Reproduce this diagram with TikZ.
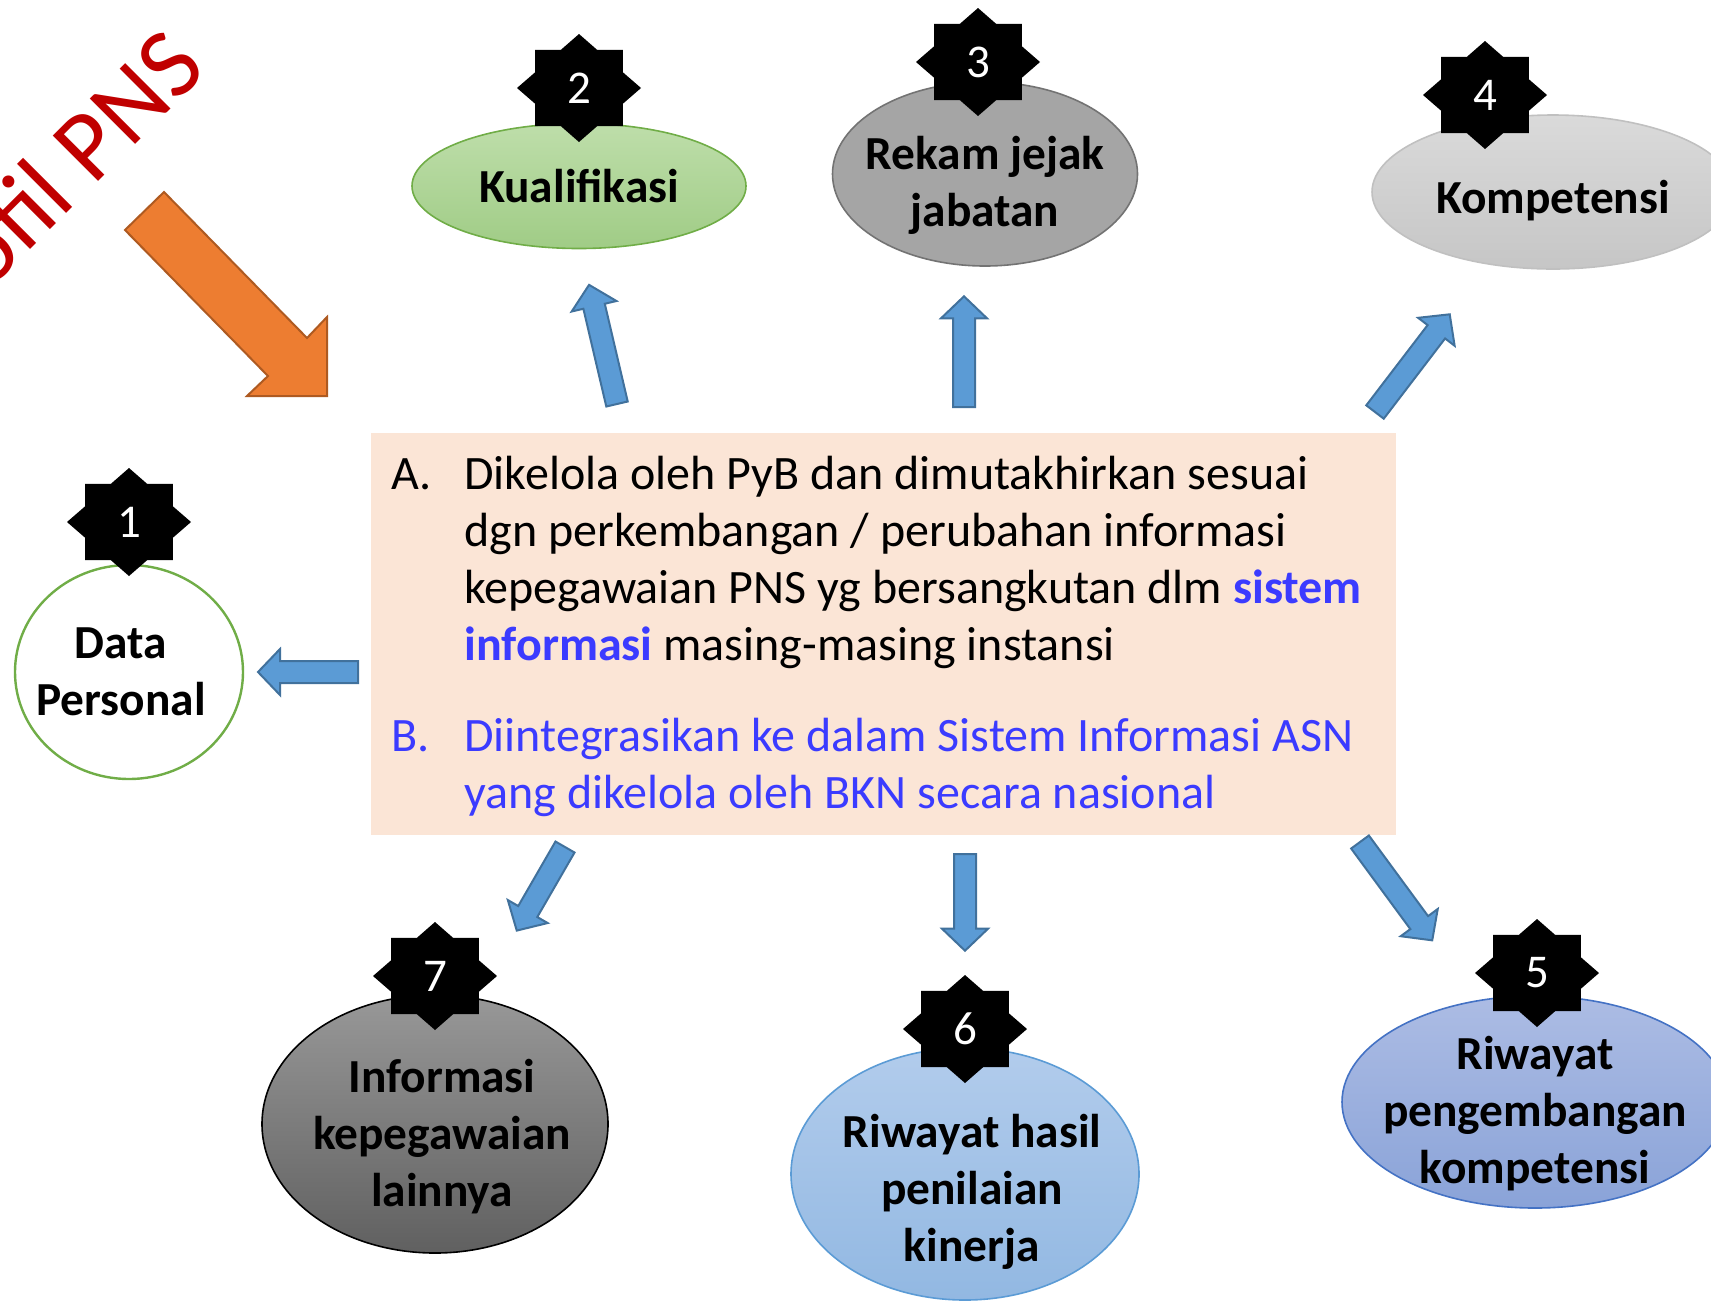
\documentclass[tikz,border=0pt]{standalone}
\usepackage{fontspec}
\setmainfont{Carlito}
\usetikzlibrary{shapes.geometric}

\definecolor{boxfill}{HTML}{FBE5D6}
\definecolor{infoblue}{RGB}{59,59,255}
\definecolor{arrowblue}{HTML}{5B9BD5}
\definecolor{arrowedge}{HTML}{41719C}
\definecolor{pnsred}{HTML}{C00000}
\definecolor{orangefill}{HTML}{ED7D31}
\definecolor{orangeedge}{HTML}{AE5A21}
\definecolor{greenedge}{HTML}{70AD47}
\definecolor{greentop}{RGB}{190,222,170}
\definecolor{greenbot}{RGB}{160,204,134}
\definecolor{grayedge}{RGB}{115,115,115}
\definecolor{grayfill}{RGB}{165,165,165}
\definecolor{lightedge}{RGB}{192,192,192}
\definecolor{lighttop}{RGB}{218,218,218}
\definecolor{lightbot}{RGB}{198,198,198}
\definecolor{darktop}{RGB}{152,152,152}
\definecolor{darkbot}{RGB}{96,96,96}
\definecolor{skyedge}{HTML}{5B9BD5}
\definecolor{skytop}{RGB}{178,204,236}
\definecolor{skybot}{RGB}{146,184,226}
\definecolor{lavedge}{HTML}{4472C4}
\definecolor{lavtop}{RGB}{172,188,228}
\definecolor{lavbot}{RGB}{138,163,216}

% eight-pointed black badge with a white number
\newcommand{\numstar}[3]{%
  \begin{scope}[shift={#2}]
    \fill[black] (0:31pt and 27pt)
      \foreach \a in {0,45,...,315} {-- (\a+22.5:23.7pt and 20.65pt) -- (\a+45:31pt and 27pt)} -- cycle;
  \end{scope}
  \node[numlabel] (#1) at #2 {#3};
}

% block arrow: tail centre, direction, length
\newcommand{\blockarrow}[3]{%
  \begin{scope}[shift={#1}, rotate=#2]
    \filldraw[bluearrow] (0,-11) -- ({#3-22},-11) -- ({#3-22},-23) -- (#3,0)
      -- ({#3-22},23) -- ({#3-22},11) -- (0,11) -- cycle;
  \end{scope}
}

\begin{document}
\begin{tikzpicture}[x=0.5pt, y=-0.5pt,
  bluearrow/.style={fill=arrowblue, draw=arrowedge, line width=1pt},
  numlabel/.style={text=white, font=\fontsize{23.5}{28}\selectfont, inner sep=0},
  bubble/.style={ellipse, inner sep=0, line width=0.8pt},
  bubbletext/.style={align=center, inner sep=0, font=\bfseries\fontsize{23.7}{28.5}\selectfont}]

\useasboundingbox (0,0) rectangle (1711,1303);
\clip (0,0) rectangle (1711,1303);

\node[rotate=45, anchor=base east, text=pnsred, font=\fontsize{50}{60}\selectfont, inner sep=0] (title) at (209,71) {Profil PNS};
\draw[fill=orangefill, draw=orangeedge, line width=1pt] (125,230) -- (164,192) -- (307,338) -- (327,317)
  -- (327,396) -- (247,396) -- (268,376) -- cycle;

\node[fill=boxfill, minimum width=512.5pt, minimum height=201pt, inner sep=0] (info) at (883.5,634) {};
\node[anchor=base west, inner sep=0, font=\fontsize{24}{28.5}\selectfont] (infotext) at (391,489) {%
  \begin{tabular}[t]{@{}p{36.5pt}@{}l@{}}
  A. & Dikelola oleh PyB dan dimutakhirkan sesuai\\
     & dgn perkembangan / perubahan informasi\\
     & kepegawaian PNS yg bersangkutan dlm \textcolor{infoblue}{\bfseries sistem}\\
     & \textcolor{infoblue}{\bfseries informasi} masing-masing instansi\\[17pt]
  \textcolor{infoblue}{B.} & \textcolor{infoblue}{Diintegrasikan ke dalam Sistem Informasi ASN}\\
     & \textcolor{infoblue}{yang dikelola oleh BKN secara nasional}
  \end{tabular}};

\blockarrow{(617,404)}{103.2}{122.4}
\blockarrow{(964,407)}{90}{110.7}
\blockarrow{(1375,412)}{52.6}{123}
\blockarrow{(358,672)}{180}{100}
\blockarrow{(565,847)}{-120}{96.5}
\blockarrow{(965,854)}{-90}{96.7}
\blockarrow{(1360,842)}{-53.7}{122}

\node[bubble, draw=greenedge, line width=1.2pt, fill=white, minimum width=114pt, minimum height=107pt,
  label={[bubbletext, xshift=-4pt]center:Data\\Personal}] (personal) at (129,672) {};
\node[bubble, draw=greenedge, top color=greentop, bottom color=greenbot, minimum width=167pt, minimum height=62.5pt,
  label={[bubbletext]center:Kualifikasi}] (kualifikasi) at (579,186) {};
\node[bubble, draw=grayedge, fill=grayfill, minimum width=152.5pt, minimum height=92pt,
  label={[bubbletext, yshift=-5.5pt]center:Rekam jejak\\jabatan}] (rekam) at (985,174) {};
\node[bubble, draw=lightedge, top color=lighttop, bottom color=lightbot, minimum width=181pt, minimum height=77pt,
  label={[bubbletext, yshift=-4.5pt]center:Kompetensi}] (kompetensi) at (1553,192) {};
\node[bubble, draw=lavedge, top color=lavtop, bottom color=lavbot, minimum width=193pt, minimum height=106pt,
  label={[bubbletext, yshift=-6pt]center:Riwayat\\pengembangan\\kompetensi}] (pengembangan) at (1535,1102) {};
\node[bubble, draw=skyedge, top color=skytop, bottom color=skybot, minimum width=174pt, minimum height=126pt,
  label={[bubbletext, xshift=3.5pt, yshift=-9pt]center:Riwayat hasil\\penilaian\\kinerja}] (kinerja) at (965,1174) {};
\node[bubble, draw=black, top color=darktop, bottom color=darkbot, minimum width=173pt, minimum height=129pt,
  label={[bubbletext, xshift=3.5pt, yshift=-6.5pt]center:Informasi\\kepegawaian\\lainnya}] (lainnya) at (435,1124) {};

\numstar{star1}{(129,522)}{1}
\numstar{star2}{(579,88)}{2}
\numstar{star3}{(978,62)}{3}
\numstar{star4}{(1485,95)}{4}
\numstar{star5}{(1537,973)}{5}
\numstar{star6}{(965,1029)}{6}
\numstar{star7}{(435,976)}{7}

\end{tikzpicture}
\end{document}
